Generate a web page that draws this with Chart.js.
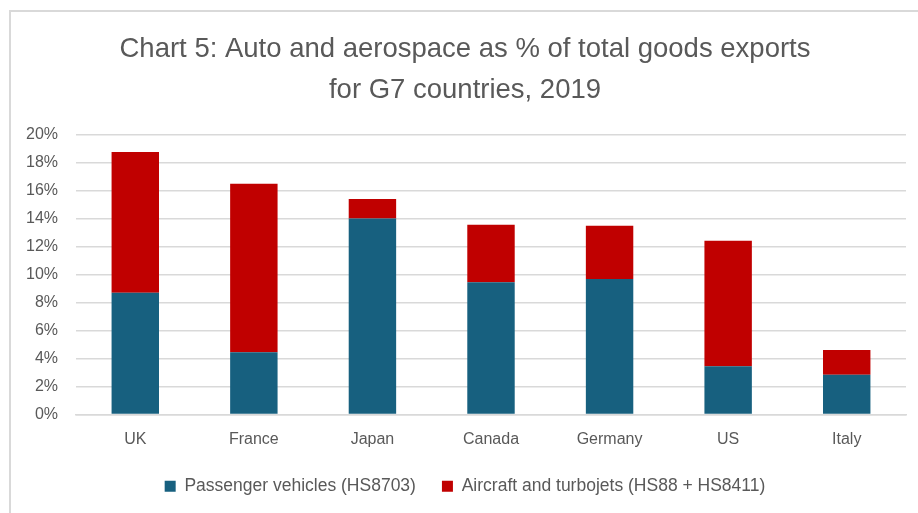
<!DOCTYPE html>
<html>
<head>
<meta charset="utf-8">
<script src="https://cdn.jsdelivr.net/npm/chart.js@4"></script>
<style>
  html, body { margin: 0; padding: 0; background: #fff; }
  #wrap { position: relative; width: 918px; height: 513px; }
  #frame {
    position: absolute; left: 9px; top: 10px; width: 920px; height: 520px;
    border-left: 2px solid #d9d9d9; border-top: 2px solid #d9d9d9;
    pointer-events: none;
  }
  canvas { position: absolute; left: 0; top: 0; }
</style>
</head>
<body>
<div id="wrap">
  <canvas id="grafico" width="918" height="513"></canvas>
  <div id="frame"></div>
</div>
<script>
const paises = ["UK", "France", "Japan", "Canada", "Germany", "US", "Italy"];
// % of total goods exports
const veiculos = [8.7, 4.45, 14.0, 9.45, 9.67, 3.45, 2.83];
const aeronaves = [10.05, 12.03, 1.38, 4.1, 3.81, 8.95, 1.77];
const ticksY = [0, 2, 4, 6, 8, 10, 12, 14, 16, 18, 20];

const fonte = "'Liberation Sans', Arial, sans-serif";
const cinza = "#595959";

const grafico = document.getElementById("grafico");
new Chart(grafico, {
  type: "bar",
  data: {
    labels: paises,
    datasets: [
      {
        label: "Passenger vehicles (HS8703)",
        data: veiculos,
        backgroundColor: "#17607f",
        borderWidth: 0,
      },
      {
        label: "Aircraft and turbojets (HS88 + HS8411)",
        data: aeronaves,
        backgroundColor: "#c00000",
        borderWidth: 0,
      },
    ],
  },
  options: {
    responsive: false,
    animation: false,
    layout: { padding: { left: 24, right: 12, top: 29, bottom: 8 } },
    datasets: { bar: { categoryPercentage: 1, barPercentage: 0.4 } },
    scales: {
      x: {
        stacked: true,
        afterFit: (s) => { s.height = 37; },
        grid: { display: false, drawTicks: false },
        border: { color: "#d9d9d9", width: 1.5 },
        ticks: { color: cinza, font: { family: fonte, size: 16 }, padding: 15 },
      },
      y: {
        stacked: true,
        min: 0,
        max: 20,
        afterFit: (s) => { s.width = 52; },
        afterBuildTicks: (s) => { s.ticks = ticksY.map((v) => ({ value: v })); },
        grid: { color: "#d9d9d9", lineWidth: 1.5, drawTicks: false },
        border: { display: false },
        ticks: {
          color: cinza,
          padding: 18,
          font: { family: fonte, size: 16 },
          callback: (v) => v + "%",
        },
      },
    },
    plugins: {
      title: {
        display: true,
        text: ["Chart 5: Auto and aerospace as % of total goods exports", "for G7 countries, 2019"],
        color: cinza,
        font: { family: fonte, size: 27.5, weight: "normal", lineHeight: 1.48 },
        padding: { top: 0, bottom: 24 },
      },
      legend: {
        position: "bottom",
        labels: {
          color: cinza,
          boxWidth: 11,
          boxHeight: 11,
          padding: 26,
          font: { family: fonte, size: 17.5 },
        },
      },
      tooltip: { enabled: false },
    },
  },
});
</script>
</body>
</html>
